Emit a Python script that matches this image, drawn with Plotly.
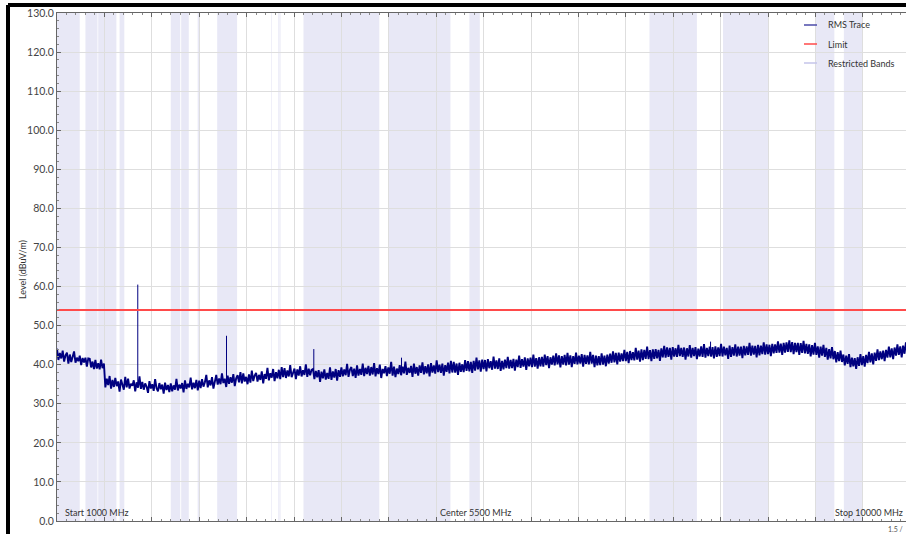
import plotly.graph_objects as go

# ---------------- data ----------------
sweep_start_mhz = 1000
sweep_step_mhz = 15
rms_level = [
    44.1, 41.2, 43.0, 41.6, 43.6, 40.8, 42.4, 43.1, 40.3, 42.6, 40.7, 41.9, 43.4, 40.5, 41.8, 40.9, 42.3, 39.9, 41.7, 40.6,
    41.8, 39.5, 41.6, 41.5, 39.3, 40.8, 38.9, 41.2, 39.0, 40.4, 38.8, 41.3, 39.1, 40.3, 34.2, 36.4, 34.8, 37.1, 33.9, 36.1,
    34.3, 36.6, 34.5, 35.7, 33.1, 36.2, 34.9, 33.6, 36.9, 34.2, 36.4, 33.9, 35.1, 34.6, 36.0, 33.2, 35.5, 34.1, 37.0, 33.8,
    35.6, 33.6, 35.2, 34.4, 32.8, 35.8, 33.9, 35.0, 33.3, 36.3, 34.0, 33.2, 35.3, 33.7, 34.9, 32.6, 35.4, 33.5, 34.8, 33.0,
    35.2, 33.2, 34.7, 33.6, 36.4, 33.4, 34.9, 33.9, 35.3, 32.9, 36.0, 33.8, 35.1, 34.2, 36.7, 33.7, 35.4, 34.0, 36.1, 33.4,
    35.9, 34.0, 36.3, 34.4, 35.5, 37.4, 34.2, 36.0, 34.7, 36.8, 33.9, 35.8, 37.4, 34.9, 36.5, 35.0, 37.8, 35.3, 36.4, 34.3,
    37.2, 35.1, 36.8, 35.4, 37.6, 34.5, 36.5, 37.3, 35.5, 38.1, 35.2, 37.8, 35.7, 36.9, 35.0, 37.5, 35.4, 38.5, 35.8, 37.2,
    37.9, 35.7, 37.4, 36.1, 38.3, 35.2, 37.6, 36.4, 39.2, 36.0, 37.8, 36.7, 38.9, 35.8, 38.1, 36.5, 38.7, 36.3, 39.4, 36.8,
    39.1, 36.6, 38.5, 37.0, 39.9, 36.8, 38.2, 39.0, 36.3, 38.8, 37.2, 39.6, 37.0, 38.6, 37.4, 40.1, 36.9, 39.0, 37.3, 38.7,
    38.9, 36.3, 38.4, 36.8, 38.6, 35.6, 38.2, 36.5, 38.8, 36.2, 37.9, 36.4, 39.3, 36.1, 38.3, 36.7, 38.9, 35.9, 38.6, 36.9,
    39.3, 37.0, 38.8, 37.3, 40.2, 36.9, 38.7, 39.4, 37.1, 39.0, 36.6, 39.8, 37.2, 38.9, 37.4, 40.3, 37.1, 39.2, 37.6, 39.7,
    37.2, 39.4, 37.5, 40.4, 37.0, 39.1, 37.6, 40.0, 36.6, 38.9, 37.8, 39.6, 37.1, 39.3, 37.7, 40.7, 37.2, 39.5, 36.8, 39.0,
    37.6, 39.9, 37.3, 39.5, 37.8, 40.8, 37.4, 39.2, 37.9, 39.7, 36.9, 40.3, 37.7, 39.4, 37.2, 39.8, 37.9, 40.6, 37.5, 39.6,
    37.8, 40.1, 37.0, 40.4, 38.0, 39.8, 37.7, 41.1, 38.1, 40.0, 37.9, 40.3, 37.2, 39.9, 38.2, 40.5, 37.8, 41.0, 38.0, 40.7,
    38.0, 40.3, 37.4, 40.5, 38.2, 40.1, 38.1, 41.2, 38.4, 40.9, 38.3, 40.7, 37.9, 41.0, 38.5, 41.8, 38.8, 41.1, 38.2, 41.3,
    38.9, 41.2, 38.3, 41.4, 39.1, 40.9, 38.7, 42.1, 39.0, 41.1, 38.9, 41.6, 38.4, 41.0, 38.8, 41.3, 39.1, 42.0, 39.0, 41.2,
    39.1, 41.5, 38.5, 41.3, 39.4, 42.3, 39.2, 41.4, 39.5, 41.9, 38.7, 41.6, 39.6, 41.8, 39.4, 42.6, 39.5, 41.7, 39.0, 41.9,
    39.6, 42.0, 39.5, 42.6, 39.9, 42.2, 39.1, 41.9, 40.0, 42.3, 39.8, 42.9, 40.1, 42.4, 39.3, 42.2, 40.0, 42.5, 39.8, 43.0,
    40.0, 42.4, 39.4, 42.2, 40.2, 43.1, 40.1, 42.3, 40.3, 42.7, 39.5, 42.5, 40.2, 42.4, 40.1, 43.3, 40.3, 42.5, 39.4, 42.3,
    39.8, 42.2, 39.9, 42.9, 40.0, 42.3, 39.6, 42.6, 40.3, 42.8, 40.5, 43.4, 40.6, 43.0, 40.1, 43.1, 40.8, 42.9, 40.9, 43.8,
    40.9, 43.3, 40.4, 43.5, 41.2, 43.2, 41.1, 44.3, 41.3, 43.6, 40.8, 43.9, 41.2, 43.8, 41.5, 44.6, 41.4, 43.7, 40.9, 43.9,
    41.5, 44.0, 41.6, 43.8, 41.0, 44.2, 41.9, 44.8, 41.8, 44.4, 42.0, 44.3, 41.3, 44.5, 42.1, 44.2, 42.0, 45.1, 42.2, 44.3,
    42.0, 44.4, 41.3, 44.2, 42.1, 45.0, 41.8, 44.3, 42.2, 44.5, 41.4, 44.1, 42.1, 44.7, 42.0, 45.3, 41.8, 44.3, 42.2, 44.6,
    42.1, 44.5, 41.6, 44.7, 42.0, 44.4, 42.2, 45.3, 42.1, 44.6, 42.4, 44.3, 41.5, 44.9, 42.0, 44.5, 42.3, 45.2, 42.1, 44.6,
    42.3, 44.6, 41.7, 44.8, 42.4, 44.7, 42.5, 45.6, 42.3, 44.9, 42.6, 44.8, 41.9, 45.1, 42.4, 44.9, 42.7, 45.7, 42.6, 45.2,
    42.7, 45.1, 42.2, 45.3, 42.9, 45.2, 43.0, 46.0, 43.1, 45.4, 42.5, 45.6, 43.1, 45.7, 43.3, 46.2, 43.2, 45.8, 42.7, 45.6,
    43.2, 45.6, 42.5, 45.5, 43.0, 46.1, 42.9, 45.3, 42.8, 45.2, 42.1, 45.0, 42.6, 45.6, 42.5, 44.7, 41.8, 44.6, 42.3, 45.1,
    42.0, 44.3, 41.3, 44.0, 41.6, 44.5, 41.4, 43.5, 40.6, 43.2, 40.9, 43.6, 40.7, 42.6, 39.8, 42.3, 40.2, 42.7, 39.4, 41.8,
    39.6, 41.7, 38.9, 41.9, 39.7, 42.7, 39.9, 42.2, 39.5, 42.5, 40.4, 43.3, 40.6, 42.9, 40.1, 43.1, 41.0, 43.9, 41.2, 43.4,
    41.4, 43.6, 40.9, 43.8, 41.8, 44.6, 41.9, 44.2, 41.4, 44.4, 42.3, 45.2, 42.5, 44.7, 41.9, 44.9, 42.8, 45.7, 42.9, 45.2,
]
rms_freq = [sweep_start_mhz + sweep_step_mhz * i for i in range(len(rms_level))]

spike_freq = [1852, 2788, 3709, 4634, 7894]
spike_base = [35.0, 36.0, 37.5, 38.5, 43.5]
spike_peak = [60.5, 47.4, 44.0, 41.8, 45.9]

limit_freq = [1000, 10000]
limit_level = [54.0, 54.0]

band_start = [960, 1300, 1435, 1660, 2200, 2310, 2483.5, 2690, 3260, 3332, 3345.8,
              3600, 4500, 5350, 7250, 8025, 9000, 9300]
band_stop = [1240, 1427, 1626.5, 1710, 2300, 2390, 2500, 2900, 3267, 3339, 3358,
             4400, 5150, 5460, 7750, 8500, 9200, 9500]

legend_labels = ["RMS Trace", "Limit", "Restricted Bands"]
marker_labels = ["Start 1000 MHz", "Center 5500 MHz", "Stop 10000 MHz"]
y_title = "Level (dBuV/m)"

# ---------------- styling ----------------
W, H = 906, 534
L, T, B = 57, 13, 13
plot_w = W - L
plot_h = H - T - B
FONT = "Segoe UI, Lato, Noto Sans, sans-serif"
NAVY = "#000080"
RED = "#ff4a4a"
BAND = "rgb(232,232,246)"
TXT = "#333333"


def px_x(px):
    return (px - L) / plot_w


def px_y(py):
    return (H - B - py) / plot_h


fig = go.Figure()

fig.add_trace(go.Scatter(x=rms_freq, y=rms_level, mode="lines",
                         line=dict(color=NAVY, width=1.9), showlegend=False,
                         hoverinfo="skip"))
sx, sy = [], []
for f, b0, p in zip(spike_freq, spike_base, spike_peak):
    sx += [f, f, None]
    sy += [b0, p, None]
fig.add_trace(go.Scatter(x=sx, y=sy, mode="lines",
                         line=dict(color=NAVY, width=1), showlegend=False,
                         hoverinfo="skip"))
fig.add_trace(go.Scatter(x=limit_freq, y=limit_level, mode="lines",
                         line=dict(color=RED, width=2), showlegend=False,
                         hoverinfo="skip"))

shapes = []
for s, e in zip(band_start, band_stop):
    shapes.append(dict(type="rect", xref="x", yref="paper", x0=s, x1=e, y0=0, y1=1,
                       fillcolor=BAND, line=dict(width=0), layer="below"))

shapes.append(dict(type="line", xref="paper", yref="paper",
                   x0=px_x(8), x1=px_x(W + 5), y0=px_y(5), y1=px_y(5),
                   line=dict(color="black", width=4)))
shapes.append(dict(type="line", xref="paper", yref="paper",
                   x0=px_x(8), x1=px_x(8), y0=px_y(5), y1=px_y(H + 5),
                   line=dict(color="black", width=4)))

legend_colors = ["#4b4ba8", RED, "#c4c4ea"]
legend_y = [25, 44, 63]
annotations = []
for lab, col, ly in zip(legend_labels, legend_colors, legend_y):
    shapes.append(dict(type="line", xref="paper", yref="paper",
                       x0=px_x(804), x1=px_x(817), y0=px_y(ly), y1=px_y(ly),
                       line=dict(color=col, width=1.5)))
    annotations.append(dict(xref="paper", yref="paper", x=px_x(826), y=px_y(ly),
                            text=lab, showarrow=False, xanchor="left", yanchor="middle",
                            font=dict(family=FONT, size=9, color=TXT)))

annotations.append(dict(xref="paper", yref="paper", x=px_x(63), y=px_y(512),
                         text=marker_labels[0], showarrow=False, xanchor="left",
                         yanchor="middle", font=dict(family=FONT, size=9, color=TXT)))
annotations.append(dict(xref="paper", yref="paper", x=px_x(475), y=px_y(512),
                         text=marker_labels[1], showarrow=False, xanchor="center",
                         yanchor="middle", font=dict(family=FONT, size=9, color=TXT)))
annotations.append(dict(xref="paper", yref="paper", x=px_x(905), y=px_y(512),
                         text=marker_labels[2], showarrow=False, xanchor="right",
                         yanchor="middle", font=dict(family=FONT, size=9, color=TXT)))
annotations.append(dict(xref="paper", yref="paper", x=px_x(905), y=px_y(529),
                         text="1.5 /", showarrow=False, xanchor="right",
                         yanchor="middle", font=dict(family=FONT, size=7, color="#555555")))
annotations.append(dict(xref="paper", yref="paper", x=px_x(22), y=px_y(270),
                         text=y_title, showarrow=False, textangle=-90,
                         xanchor="center", yanchor="middle",
                         font=dict(family=FONT, size=9, color=TXT)))

fig.update_layout(
    width=W, height=H,
    margin=dict(l=L, r=0, t=T, b=B),
    paper_bgcolor="white", plot_bgcolor="white",
    shapes=shapes, annotations=annotations,
    showlegend=False,
    xaxis=dict(range=[1000, 1000 + plot_w / 47.4 * 500], dtick=500, tick0=1000,
               showgrid=True, gridcolor="#dedede", gridwidth=1,
               showticklabels=False, zeroline=False,
               showline=True, linecolor="#666666", linewidth=1, mirror="allticks",
               ticks="inside", ticklen=4, tickcolor="#666666",
               minor=dict(dtick=100, ticks="inside", ticklen=2, tickcolor="#888888",
                          showgrid=False)),
    yaxis=dict(range=[0, 130], dtick=10, tickformat=".1f",
               showgrid=True, gridcolor="#dedede", gridwidth=1, zeroline=False,
               showline=True, linecolor="#666666", linewidth=1,
               ticks="inside", ticklen=4, tickcolor="#666666",
               tickfont=dict(family=FONT, size=10.5, color="#444444"),
               minor=dict(dtick=2, ticks="inside", ticklen=2, tickcolor="#888888",
                          showgrid=False)),
)

fig.write_html("out.html", config={"displayModeBar": False},
               post_script="document.body.style.margin='0px';document.body.style.overflow='hidden';")
